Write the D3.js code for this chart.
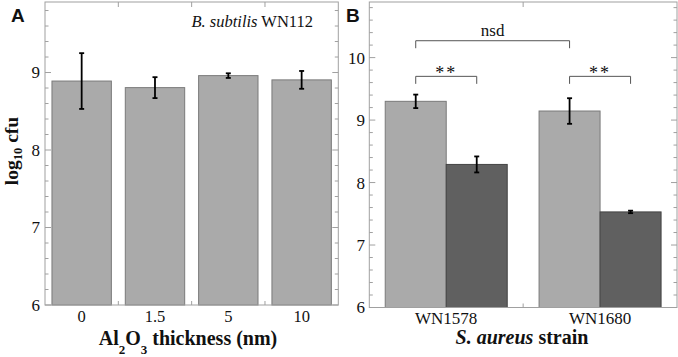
<!DOCTYPE html>
<html>
<head>
<meta charset="utf-8">
<script src="https://cdn.jsdelivr.net/npm/d3@7"></script>
<style>
  body { margin: 0; background: #fff; }
  text { font-family: "Liberation Serif", "Times New Roman", serif; fill: #111; }
  .panel-tag { font-family: "Liberation Sans", Arial, sans-serif; font-weight: bold; }
</style>
</head>
<body>
<svg id="chart" width="678" height="357"></svg>
<script>
// panel A: B. subtilis WN112 vs Al2O3 thickness
const thicknessLabels = ["0", "1.5", "5", "10"];
const bsubMean = [8.89, 8.805, 8.96, 8.905];
const bsubSd = [0.36, 0.135, 0.03, 0.115];

// panel B: two S. aureus strains, two conditions
const strains = ["WN1578", "WN1680"];
const seriesNames = ["light", "dark"];
const lightMean = [9.30, 9.145];
const lightSd = [0.108, 0.205];
const darkMean = [8.29, 7.53];
const darkSd = [0.128, 0.02];

// comparison brackets: [strain, series] -> [strain, series], level in log10 cfu
const comparisons = [
    {a: [0, 0], b: [1, 0], level: 10.27, label: "nsd"},
    {a: [0, 0], b: [0, 1], level: 9.70, label: "**"},
    {a: [1, 0], b: [1, 1], level: 9.70, label: "**"}
];

const yTicksA = [6, 7, 8, 9];
const yTicksB = [6, 7, 8, 9, 10];

const svg = d3.select("#chart");
const frameColor = "#a0a0a0";

function drawFrame(g, x0, x1, y, majors, minorStep, boundaries) {
    const [yTop, yBot] = [y.range()[1], y.range()[0]];
    g.append("rect")
        .attr("x", x0).attr("y", yTop)
        .attr("width", x1 - x0).attr("height", yBot - yTop)
        .attr("fill", "none").attr("stroke", frameColor).attr("stroke-width", 1);

    // minor + major ticks on both sides, pointing inward
    const d = y.domain();
    const minors = d3.range(d[0], d[1] + 1e-6, minorStep);
    minors.forEach(v => {
        const isMajor = majors.some(m => Math.abs(m - v) < 1e-6);
        const len = isMajor ? 6 : 3.5;
        const yy = y(v);
        g.append("line").attr("x1", x0).attr("x2", x0 + len).attr("y1", yy).attr("y2", yy)
            .attr("stroke", frameColor);
        g.append("line").attr("x1", x1).attr("x2", x1 - len).attr("y1", yy).attr("y2", yy)
            .attr("stroke", frameColor);
    });
    boundaries.forEach(bx => {
        g.append("line").attr("x1", bx).attr("x2", bx).attr("y1", yTop).attr("y2", yTop + 5)
            .attr("stroke", frameColor);
        g.append("line").attr("x1", bx).attr("x2", bx).attr("y1", yBot).attr("y2", yBot - 4)
            .attr("stroke", frameColor);
    });
}

function errorBar(g, cx, y, mean, sd) {
    const top = y(mean + sd), bot = y(mean - sd);
    g.append("line").attr("x1", cx).attr("x2", cx).attr("y1", top).attr("y2", bot)
        .attr("stroke", "#000").attr("stroke-width", 1.8);
    [top, bot].forEach(v => g.append("line")
        .attr("x1", cx - 2.5).attr("x2", cx + 2.5).attr("y1", v).attr("y2", v)
        .attr("stroke", "#000").attr("stroke-width", 1.8));
}

// ---------- panel A ----------
const gA = svg.append("g");
const xA = d3.scaleBand().domain(thicknessLabels).range([45, 338.3])
    .paddingInner(0.19).paddingOuter(0.095);
const yA = d3.scaleLinear().domain([6, 9.91]).range([305, 2]);

gA.selectAll("rect.bar")
    .data(thicknessLabels)
    .join("rect")
    .attr("class", "bar")
    .attr("x", d => xA(d))
    .attr("width", xA.bandwidth())
    .attr("y", (d, i) => yA(bsubMean[i]))
    .attr("height", (d, i) => yA(6) - yA(bsubMean[i]))
    .attr("fill", "#aaaaaa")
    .attr("stroke", "#7a7a7a")
    .attr("stroke-width", 1);

thicknessLabels.forEach((d, i) => errorBar(gA, xA(d) + xA.bandwidth() / 2, yA, bsubMean[i], bsubSd[i]));

const stepA = xA.step();
drawFrame(gA, 45, 338.3, yA, yTicksA, 0.2, [1, 2, 3].map(i => 45 + i * stepA));

gA.selectAll("text.ytick")
    .data(yTicksA)
    .join("text")
    .attr("class", "ytick")
    .attr("x", 40).attr("y", d => yA(d)).attr("dy", "0.35em")
    .attr("text-anchor", "end").attr("font-size", 17)
    .text(d => d);

gA.selectAll("text.xtick")
    .data(thicknessLabels)
    .join("text")
    .attr("class", "xtick")
    .attr("x", d => xA(d) + xA.bandwidth() / 2).attr("y", 322)
    .attr("text-anchor", "middle").attr("font-size", 16.5)
    .text(d => d);

// x title with subscripts
const xtA = gA.append("text").attr("x", 188).attr("y", 345)
    .attr("text-anchor", "middle").attr("font-size", 20).attr("font-weight", "bold");
xtA.append("tspan").text("Al");
xtA.append("tspan").attr("dy", 9).attr("font-size", 13).text("2");
xtA.append("tspan").attr("dy", -9).text("O");
xtA.append("tspan").attr("dy", 9).attr("font-size", 13).text("3");
xtA.append("tspan").attr("dy", -9).text(" thickness (nm)");

// y title
const ytA = gA.append("text").attr("transform", "translate(18,151) rotate(-90)")
    .attr("text-anchor", "middle").attr("font-size", 19.5).attr("font-weight", "bold");
ytA.append("tspan").text("log");
ytA.append("tspan").attr("dy", 4).attr("font-size", 12.5).text("10");
ytA.append("tspan").attr("dy", -4).text(" cfu");

const orgA = gA.append("text").attr("x", 313).attr("y", 27)
    .attr("text-anchor", "end").attr("font-size", 16.5);
orgA.append("tspan").attr("font-style", "italic").text("B. subtilis");
orgA.append("tspan").text(" WN112");

svg.append("text").attr("class", "panel-tag").attr("x", 11).attr("y", 22)
    .attr("font-size", 19).text("A");

// ---------- panel B ----------
const gB = svg.append("g");
const xB = d3.scaleBand().domain(strains).range([369.3, 677])
    .paddingInner(0.207).paddingOuter(0.1035);
const xBin = d3.scaleBand().domain(seriesNames).range([0, xB.bandwidth()]).padding(0);
const yB = d3.scaleLinear().domain([6, 10.89]).range([307.5, 2]);
const seriesB = {
    light: {mean: lightMean, sd: lightSd, fill: "#aaaaaa", stroke: "#7a7a7a"},
    dark: {mean: darkMean, sd: darkSd, fill: "#606060", stroke: "#444"}
};

const barsB = [];
strains.forEach((s, i) => seriesNames.forEach(k => barsB.push({s, i, k})));

gB.selectAll("rect.bar")
    .data(barsB)
    .join("rect")
    .attr("class", "bar")
    .attr("x", d => xB(d.s) + xBin(d.k))
    .attr("width", xBin.bandwidth())
    .attr("y", d => yB(seriesB[d.k].mean[d.i]))
    .attr("height", d => yB(6) - yB(seriesB[d.k].mean[d.i]))
    .attr("fill", d => seriesB[d.k].fill)
    .attr("stroke", d => seriesB[d.k].stroke)
    .attr("stroke-width", 1);

barsB.forEach(d => errorBar(gB, xB(d.s) + xBin(d.k) + xBin.bandwidth() / 2, yB,
    seriesB[d.k].mean[d.i], seriesB[d.k].sd[d.i]));

drawFrame(gB, 369.3, 677, yB, yTicksB, 0.2, [369.3 + xB.step()]);

gB.selectAll("text.ytick")
    .data(yTicksB)
    .join("text")
    .attr("class", "ytick")
    .attr("x", 365).attr("y", d => yB(d)).attr("dy", "0.35em")
    .attr("text-anchor", "end").attr("font-size", 17)
    .text(d => d);

gB.selectAll("text.xtick")
    .data(strains)
    .join("text")
    .attr("class", "xtick")
    .attr("x", d => xB(d) + xB.bandwidth() / 2).attr("y", 324)
    .attr("text-anchor", "middle").attr("font-size", 17)
    .text(d => d);

const xtB = gB.append("text").attr("x", 522).attr("y", 344)
    .attr("text-anchor", "middle").attr("font-size", 20).attr("font-weight", "bold");
xtB.append("tspan").attr("font-style", "italic").text("S. aureus");
xtB.append("tspan").text(" strain");

// brackets
const barCenter = ([si, ki]) => xB(strains[si]) + xBin(seriesNames[ki]) + xBin.bandwidth() / 2;
comparisons.forEach(c => {
    const xa = barCenter(c.a), xb = barCenter(c.b);
    const yy = yB(c.level);
    gB.append("path")
        .attr("d", `M${xa},${yy + 7.5}V${yy}H${xb}V${yy + 7.5}`)
        .attr("fill", "none").attr("stroke", "#555").attr("stroke-width", 1);
    const isNsd = c.label === "nsd";
    gB.append("text")
        .attr("x", (xa + xb) / 2).attr("y", isNsd ? yy - 5 : yy + 3)
        .attr("text-anchor", "middle").attr("font-size", isNsd ? 17 : 18)
        .attr("letter-spacing", isNsd ? 0 : 2)
        .attr("fill", "#222")
        .text(c.label);
});

svg.append("text").attr("class", "panel-tag").attr("x", 346).attr("y", 22)
    .attr("font-size", 19).text("B");
</script>
</body>
</html>
